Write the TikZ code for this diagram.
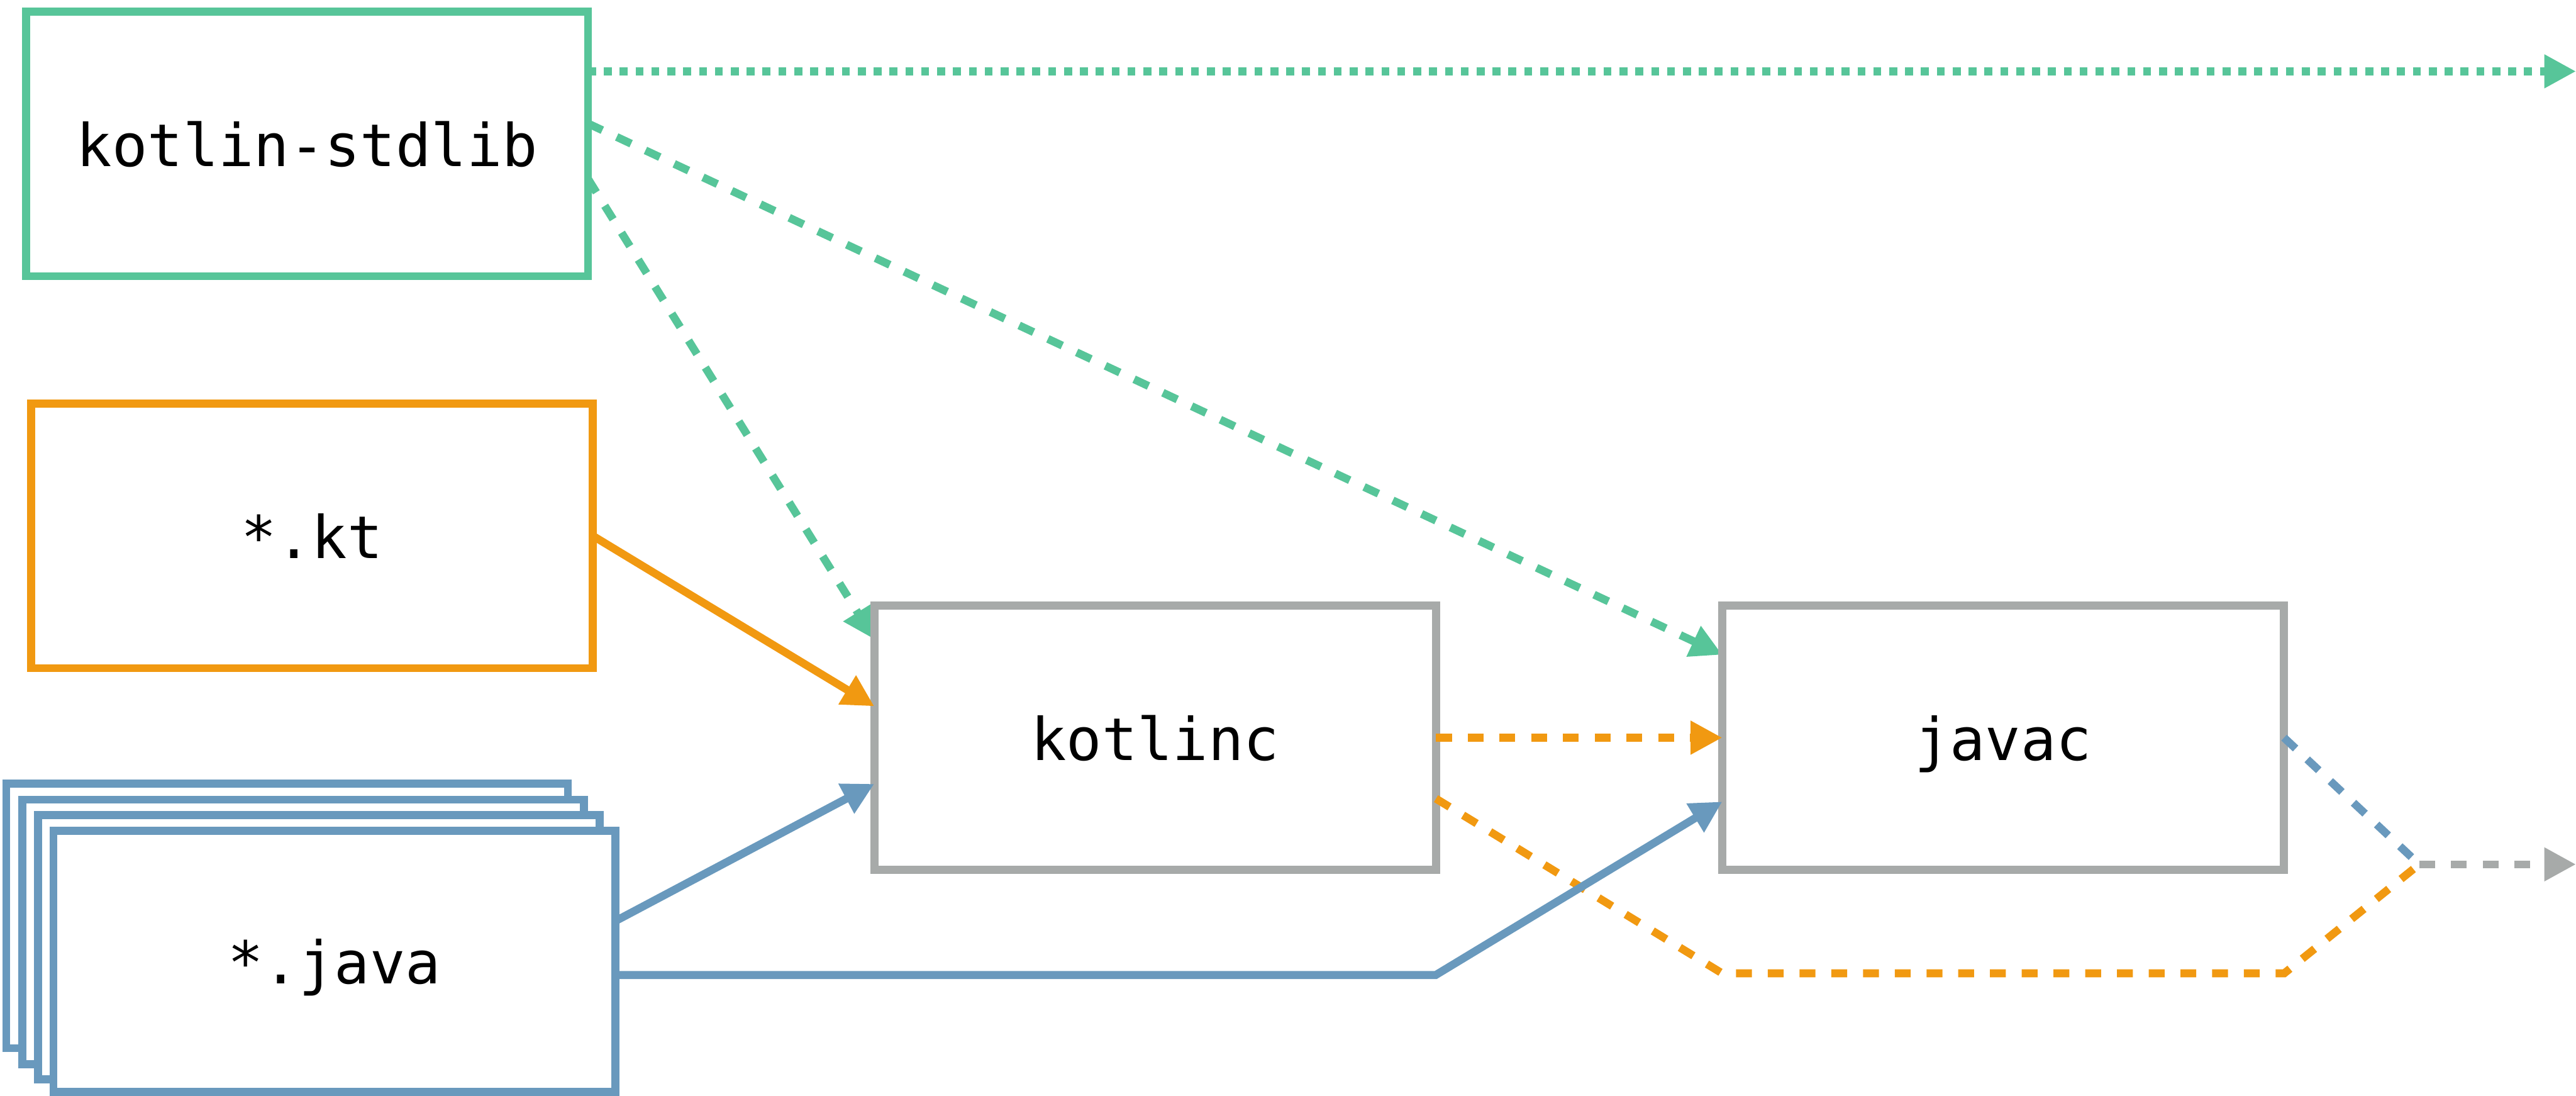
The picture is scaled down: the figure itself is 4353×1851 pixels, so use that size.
\documentclass[tikz,border=0pt]{standalone}
\usepackage{fontspec}
\usetikzlibrary{arrows.meta}
\newfontfamily\boxfont{DejaVu Sans Mono}
\definecolor{kgreen}{HTML}{57C599}
\definecolor{korange}{HTML}{F19911}
\definecolor{kblue}{HTML}{6999BD}
\definecolor{kgrey}{HTML}{A7AAA9}
\pgfdeclarelayer{behind}
\pgfsetlayers{behind,main}

\begin{document}
\begin{tikzpicture}[x=0.01cm,y=-0.01cm,
  box/.style={draw, line width=0.134cm, minimum width=9.486cm, minimum height=4.466cm,
    inner sep=0pt, outer sep=0pt, fill=white, text depth=0pt,
    font=\boxfont\fontsize{28.3}{34}\selectfont},
  wire/.style={line width=0.134cm},
  dashedwire/.style={wire, dash pattern=on 0.268cm off 0.268cm},
  dottedwire/.style={wire, dash pattern=on 0.134cm off 0.134cm},
  tip/.style={-{Triangle[length=0.536cm,width=0.536cm]}}]
\useasboundingbox (0,0) rectangle (4353,1851);

% source boxes
\node[box, draw=kgreen] (stdlib) at (519,243) {kotlin-stdlib};
\node[box, draw=korange] (kt) at (527,905) {*.kt};
\node[box, draw=kblue] (java3) at (485,1547) {};
\node[box, draw=kblue] (java2) at (512,1574) {};
\node[box, draw=kblue] (java1) at (539,1600) {};
\node[box, draw=kblue, minimum height=4.406cm] (java) at (565,1624) {*.java};

% compilers
\node[box, draw=kgrey] (kotlinc) at (1952,1246) {kotlinc};
\node[box, draw=kgrey] (javac) at (3385,1246) {javac};

% free ends and bends
\coordinate (libout) at (4353,120.5);
\coordinate (merge) at (4088,1460);
\coordinate (out) at (4353,1460);
\coordinate (jbend) at (2426,1647);
\coordinate (obend1) at (2910,1644);
\coordinate (obend2) at (3860,1644);

% stdlib on the classpath
\begin{pgfonlayer}{behind}
\draw[dottedwire, kgreen, tip] (stdlib.east |- libout) -- (libout);
\draw[dashedwire, kgreen, tip] ([yshift=0.344cm]stdlib.east) -- ([yshift=1.40cm]javac.west);
\draw[dashedwire, kgreen, tip] ([yshift=-0.59cm]stdlib.east) -- ([yshift=1.66cm]kotlinc.west);
\end{pgfonlayer}

% kotlin sources
\draw[wire, korange, tip] (kt.east) -- ([yshift=0.53cm]kotlinc.west);
\draw[dashedwire, korange, tip] (kotlinc.east) -- (javac.west);
\draw[dashedwire, korange] ([yshift=-1.03cm]kotlinc.east) -- (obend1) -- (obend2) -- (merge);

% java sources
\draw[wire, kblue, tip] ([yshift=0.68cm]java.east) -- ([yshift=-0.78cm]kotlinc.west);
\draw[wire, kblue, tip] (java.east |- jbend) -- (jbend) -- ([yshift=-1.08cm]javac.west);
\draw[dashedwire, kblue] (javac.east) -- (merge);

% output
\draw[dashedwire, kgrey, tip] (merge) -- (out);
\end{tikzpicture}
\end{document}
